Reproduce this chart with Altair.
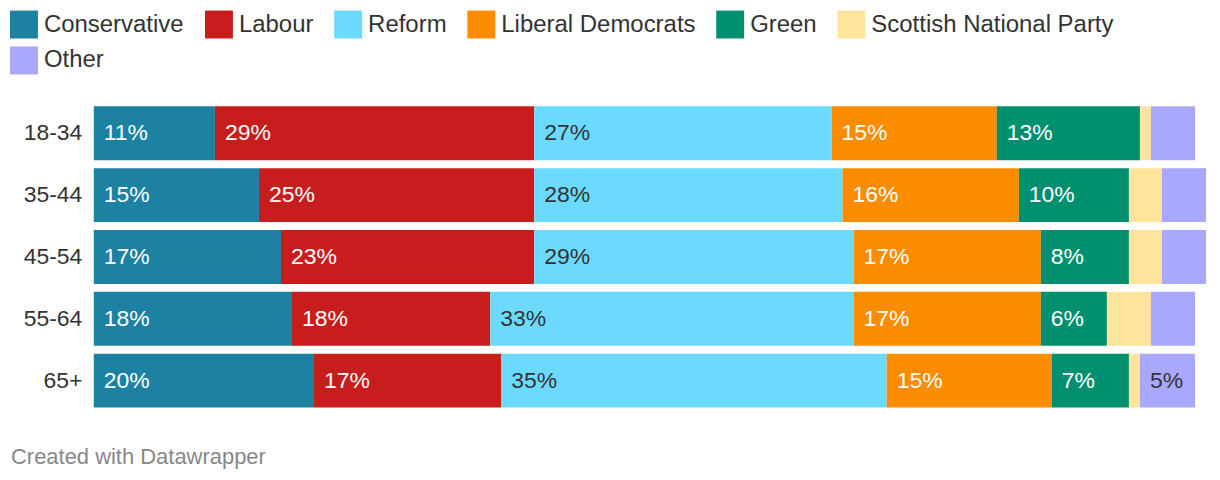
import altair as alt
import pandas as pd

ages = ["18-34", "35-44", "45-54", "55-64", "65+"]
parties = ["Conservative", "Labour", "Reform", "Liberal Democrats", "Green",
           "Scottish National Party", "Other"]
colors = ["#1d81a2", "#c71e1d", "#6cdaff", "#fa8c00", "#009070", "#ffe59c", "#a8a8ff"]
footer = ["Created with Datawrapper"]

conservative = [11, 15, 17, 18, 20]
labour = [29, 25, 23, 18, 17]
reform = [27, 28, 29, 33, 35]
lib_dem = [15, 16, 17, 17, 15]
green = [13, 10, 8, 6, 7]
snp = [1, 3, 3, 4, 1]
other = [4, 4, 4, 4, 5]

series = [conservative, labour, reform, lib_dem, green, snp, other]
rows = []
for pi, (p, vals) in enumerate(zip(parties, series)):
    for a, v in zip(ages, vals):
        rows.append({"age": a, "party": p, "idx": pi, "value": v})
df = pd.DataFrame(rows)

FONT = "Liberation Sans"

base = alt.Chart(df).transform_stack(
    stack="value", groupby=["age"], as_=["v0", "v1"],
    sort=[alt.SortField("idx", order="ascending")]
)

yenc = alt.Y("age:N", sort=ages, title=None,
             scale=alt.Scale(paddingInner=8 / 62, paddingOuter=4 / 62),
             axis=alt.Axis(labelFontSize=23, labelColor="#333", labelFont=FONT,
                           ticks=False, domain=False, labelPadding=12, grid=False))

bars = base.mark_bar(strokeWidth=0).encode(
    x=alt.X("v0:Q", scale=alt.Scale(domain=[0, 101], nice=False, zero=True), axis=None),
    x2="v1:Q",
    y=yenc,
    color=alt.Color("party:N", sort=parties,
                    scale=alt.Scale(domain=parties, range=colors),
                    legend=alt.Legend(title=None, orient="none", legendX=-84, legendY=-92,
                                      direction="horizontal", columns=6,
                                      symbolType="square", symbolSize=784,
                                      symbolStrokeWidth=0, symbolOpacity=1,
                                      labelFontSize=24, labelColor="#333", labelFont=FONT,
                                      labelOffset=6, columnPadding=20.5, rowPadding=8,
                                      labelLimit=400)),
)

labels = base.transform_filter("datum.value >= 5").transform_calculate(
    label="datum.value + '%'"
).mark_text(
    align="left", baseline="middle", dx=10, dy=0, fontSize=23, font=FONT
).encode(
    x=alt.X("v0:Q"),
    y=alt.Y("age:N", sort=ages),
    text=alt.Text("label:N"),
    color=alt.condition(
        alt.FieldOneOfPredicate(field="party", oneOf=["Reform", "Other", "Scottish National Party"]),
        alt.value("#333333"), alt.value("#ffffff")),
)

foot = alt.Chart(pd.DataFrame({"t": footer})).mark_text(
    align="left", baseline="alphabetic", fontSize=22, font=FONT, color="#888888"
).encode(
    x=alt.value(-83), y=alt.value(363), text="t:N"
)

chart = alt.layer(bars, labels, foot).properties(
    width=1115, height=310,
    autosize=alt.AutoSizeParams(type="none"),
    padding={"left": 86, "top": 94, "right": 6, "bottom": 58},
).configure_view(stroke=None)

chart.save("out.html", embed_options={"renderer": "svg", "actions": False})
